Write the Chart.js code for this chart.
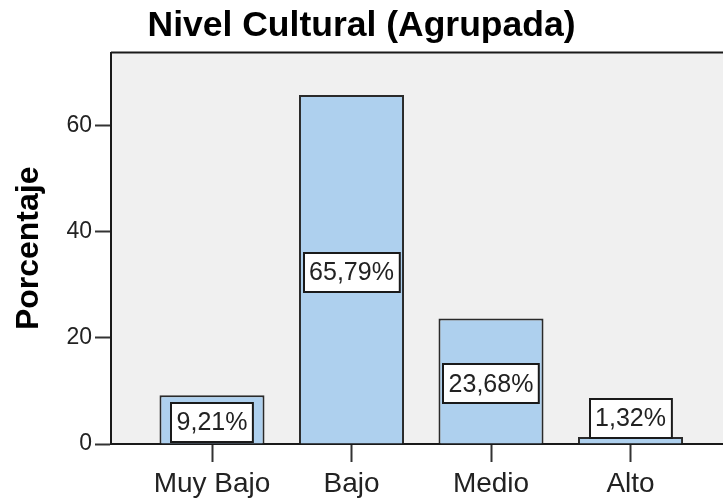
<!DOCTYPE html>
<html>
<head>
<meta charset="utf-8">
<script src="https://cdn.jsdelivr.net/npm/chart.js@4/dist/chart.umd.min.js"></script>
<style>
  html, body { margin: 0; padding: 0; background: #ffffff; }
  #wrap { width: 723px; height: 499px; }
</style>
</head>
<body>
<div id="wrap"><canvas id="nivelChart"></canvas></div>
<script>
const categories = ["Muy Bajo", "Bajo", "Medio", "Alto"];
const percentages = [9.21, 65.79, 23.68, 1.32];
const valueLabels = ["9,21%", "65,79%", "23,68%", "1,32%"];
const yTicks = [0, 20, 40, 60];

const FONT = "'Liberation Sans', Arial, sans-serif";

// grey plot background + top frame line
const plotFrame = {
  id: "plotFrame",
  beforeDraw(chart) {
    const { ctx, chartArea } = chart;
    ctx.save();
    ctx.fillStyle = "#f0f0f0";
    ctx.fillRect(chartArea.left, chartArea.top, chartArea.right - chartArea.left, chartArea.bottom - chartArea.top);
    ctx.restore();
  },
  afterDraw(chart) {
    const { ctx, chartArea } = chart;
    ctx.save();
    ctx.strokeStyle = "#1a1a1a";
    ctx.lineWidth = 2;
    ctx.beginPath();
    ctx.moveTo(chartArea.left, chartArea.top);
    ctx.lineTo(chartArea.right, chartArea.top);
    ctx.stroke();
    ctx.restore();
  },
};

// white boxed percentage labels
const boxLabels = {
  id: "boxLabels",
  afterDatasetsDraw(chart) {
    const { ctx } = chart;
    const meta = chart.getDatasetMeta(0);
    ctx.save();
    ctx.font = "25px " + FONT;
    ctx.textAlign = "center";
    ctx.textBaseline = "middle";
    meta.data.forEach((bar, i) => {
      const text = valueLabels[i];
      const w = ctx.measureText(text).width + 11;
      const h = 39;
      const barH = bar.base - bar.y;
      let cy;
      if (barH >= h) {
        cy = (bar.y + bar.base) / 2 + 3;
      } else {
        cy = bar.y + 1 - h / 2;
      }
      const x0 = Math.round(bar.x - w / 2);
      const y0 = Math.round(cy - h / 2);
      ctx.fillStyle = "#ffffff";
      ctx.fillRect(x0, y0, w, h);
      ctx.strokeStyle = "#1a1a1a";
      ctx.lineWidth = 2;
      ctx.strokeRect(x0, y0, w, h);
      ctx.fillStyle = "#222222";
      ctx.fillText(text, bar.x, cy + 1);
    });
    ctx.restore();
  },
};

new Chart(document.getElementById("nivelChart"), {
  type: "bar",
  data: {
    datasets: [
      {
        data: percentages.map((v, i) => ({ x: i, y: v })),
        backgroundColor: "#aed0ee",
        borderColor: "#2a2a2a",
        borderWidth: 2,
        barPercentage: 1,
        categoryPercentage: 0.753,
      },
    ],
  },
  options: {
    responsive: true,
    maintainAspectRatio: false,
    animation: false,
    layout: { padding: { left: 0, right: 0, top: 0, bottom: 0 } },
    plugins: {
      legend: { display: false },
      tooltip: { enabled: false },
      title: {
        display: true,
        text: "Nivel Cultural (Agrupada)",
        color: "#000000",
        font: { family: FONT, size: 35.5, weight: "bold", lineHeight: 1.2 },
        padding: { top: 5, bottom: 5 },
      },
    },
    scales: {
      x: {
        type: "linear",
        offset: false,
        min: -0.724,
        max: 3.663,
        afterFit(scale) { scale.height = 55; },
        afterBuildTicks(scale) {
          scale.ticks = categories.map((c, i) => ({ value: i }));
        },
        grid: {
          offset: false,
          drawOnChartArea: false,
          drawTicks: true,
          tickLength: 18,
          tickWidth: 2,
          tickColor: "#333333",
        },
        border: { display: true, color: "#1a1a1a", width: 2 },
        ticks: {
          color: "#222222",
          padding: 5,
          maxRotation: 0,
          autoSkip: false,
          font: { family: FONT, size: 28 },
          callback: (v) => categories[v] || "",
        },
      },
      y: {
        min: 0,
        max: 73.8,
        afterFit(scale) { scale.width = 111; },
        afterBuildTicks(scale) {
          scale.ticks = yTicks.map((t) => ({ value: t }));
        },
        grid: {
          drawOnChartArea: false,
          drawTicks: true,
          tickLength: 16,
          tickWidth: 2,
          tickColor: "#333333",
        },
        border: { display: true, color: "#1a1a1a", width: 2 },
        ticks: {
          color: "#222222",
          padding: 3,
          font: { family: FONT, size: 23 },
        },
        title: {
          display: true,
          text: "Porcentaje",
          color: "#000000",
          font: { family: FONT, size: 32, weight: "bold", lineHeight: 1.2 },
          padding: { top: 10, bottom: 0 },
        },
      },
    },
  },
  plugins: [plotFrame, boxLabels],
});
</script>
</body>
</html>
